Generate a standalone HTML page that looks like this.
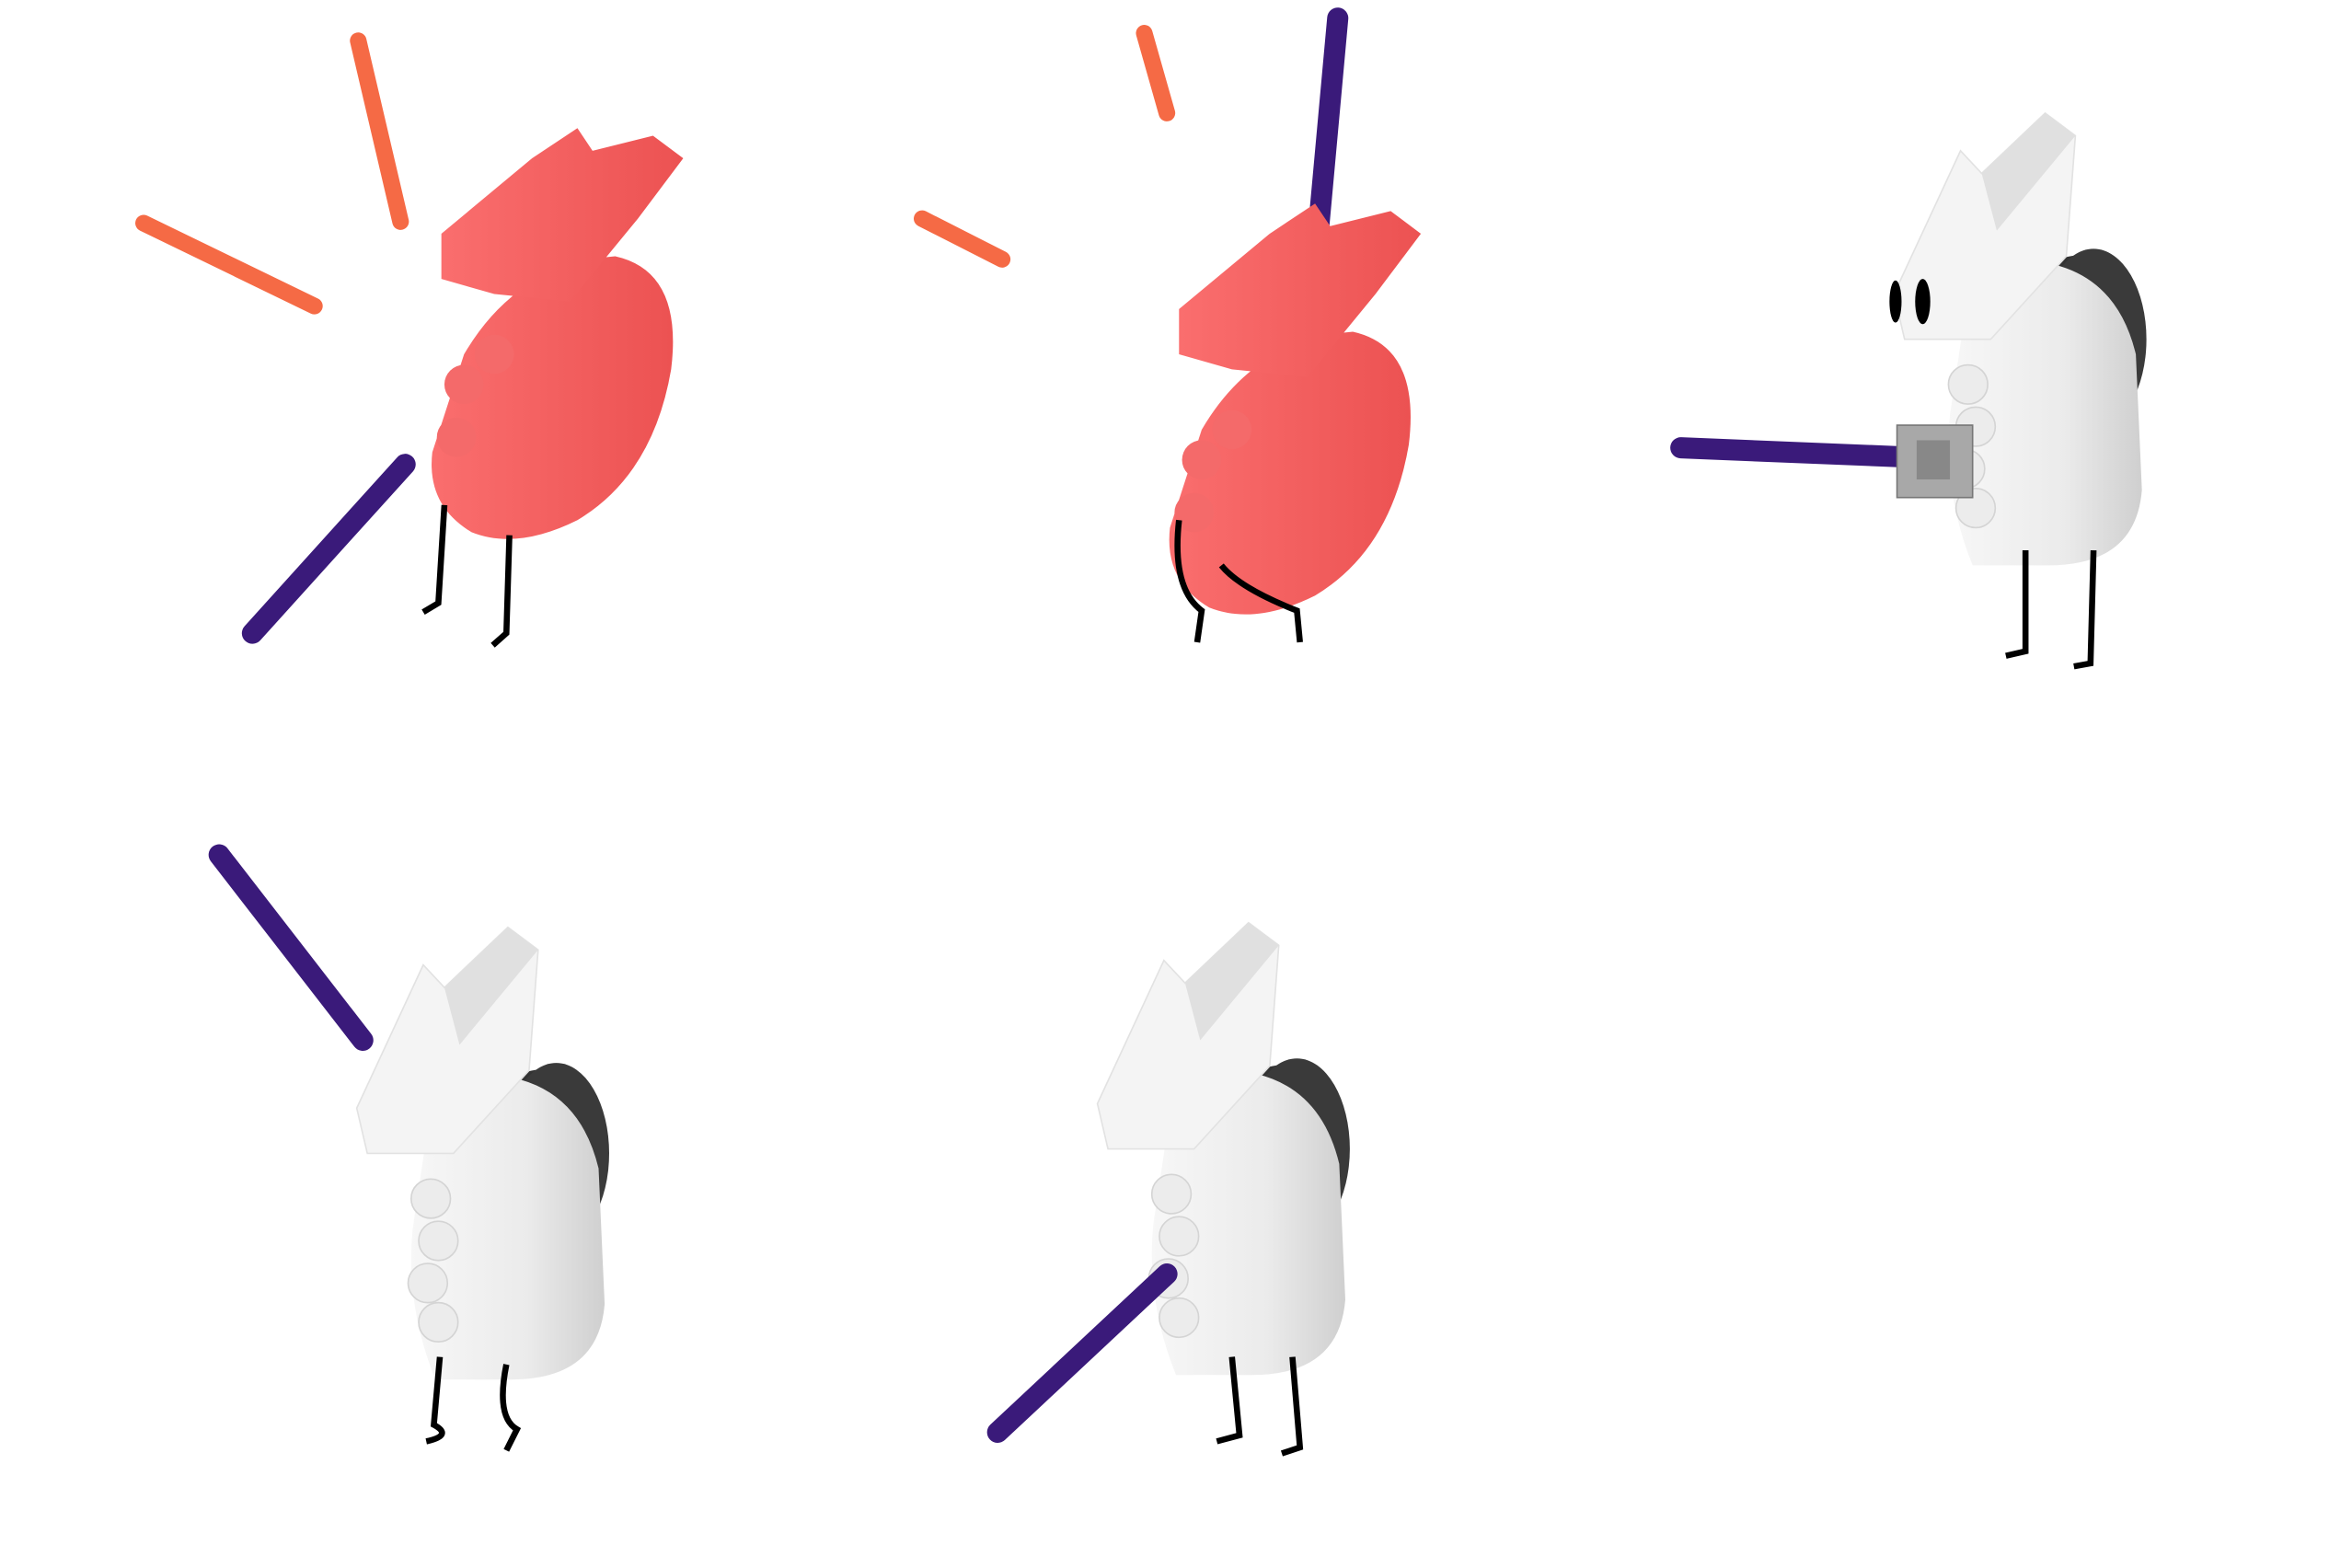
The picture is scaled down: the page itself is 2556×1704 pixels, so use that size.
<!DOCTYPE html>
<html><head><meta charset="utf-8"><style>
html,body{margin:0;padding:0;background:#fff;}
svg{display:block;}
</style></head><body>
<svg width="2556" height="1704" viewBox="0 0 1556 1040" preserveAspectRatio="none" xmlns="http://www.w3.org/2000/svg">
<defs>
<linearGradient id="wg" x1="0" y1="0" x2="1" y2="0"><stop offset="0" stop-color="#f7f7f7"/><stop offset="0.6" stop-color="#ebebeb"/><stop offset="1" stop-color="#cfcfcf"/></linearGradient>
<linearGradient id="rg" x1="0" y1="0" x2="1" y2="0"><stop offset="0" stop-color="#fa6e6e"/><stop offset="1" stop-color="#ec5252"/></linearGradient>
<g id="whitebody">
  <path d="M110 100 Q150 80 170 130 L150 120 Z" fill="#333"/>
  <ellipse cx="140" cy="150" rx="35" ry="60" fill="#3a3a3a"/>
  <path d="M60 100 Q150 85 168 160 L172 250 Q168 300 110 300 L60 300 Q40 250 45 200 Z" fill="url(#wg)"/>
  <circle cx="57" cy="180" r="13" fill="#ececec" stroke="#d4d4d4"/>
  <circle cx="62" cy="208" r="13" fill="#ececec" stroke="#d4d4d4"/>
  <circle cx="55" cy="236" r="13" fill="#ececec" stroke="#d4d4d4"/>
  <circle cx="62" cy="262" r="13" fill="#ececec" stroke="#d4d4d4"/>
  <path d="M8 120 L52 25 L66 40 L108 0 L128 15 L122 95 L72 150 L15 150 Z" fill="#f4f4f4" stroke="#e2e2e2"/>
  <path d="M66 40 L108 0 L128 15 L76 78 Z" fill="#e0e0e0"/>
</g>
<g id="redbody">
  <path d="M25 150 Q60 90 125 85 Q170 95 162 160 Q150 230 100 260 Q60 280 30 268 Q0 250 4 215 Z" fill="url(#rg)"/>
  <path d="M10 70 L70 20 L100 0 L110 15 L150 5 L170 20 L140 60 L95 115 L45 110 L10 100 Z" fill="url(#rg)"/>
  <circle cx="25" cy="170" r="13" fill="#f46a6a"/>
  <circle cx="45" cy="150" r="13" fill="#f46a6a"/>
  <circle cx="20" cy="205" r="13" fill="#f46a6a"/>
</g>
</defs>
<rect width="1556" height="1040" fill="#fff"/>

<g>
  <line x1="237" y1="27" x2="265" y2="147" stroke="#f56a45" stroke-width="11" stroke-linecap="round"/>
  <line x1="95" y1="148" x2="208" y2="203" stroke="#f56a45" stroke-width="11" stroke-linecap="round"/>
  <use href="#redbody" x="282" y="85"/>
  <line x1="167" y1="420" x2="268" y2="308" stroke="#3a1a7a" stroke-width="14" stroke-linecap="round"/>
  <path d="M294 335 L290 400 L280 406" stroke="#000" stroke-width="4" fill="none"/>
  <path d="M337 355 L335 420 L326 428" stroke="#000" stroke-width="4" fill="none"/>
</g>

<g>
  <line x1="757" y1="22" x2="772" y2="75" stroke="#f56a45" stroke-width="11" stroke-linecap="round"/>
  <line x1="610" y1="145" x2="663" y2="172" stroke="#f56a45" stroke-width="11" stroke-linecap="round"/>
  <line x1="885" y1="12" x2="872" y2="155" stroke="#3a1a7a" stroke-width="14" stroke-linecap="round"/>
  <use href="#redbody" x="770" y="135"/>
  <path d="M780 345 Q775 390 795 405 L792 426" stroke="#000" stroke-width="4" fill="none"/>
  <path d="M808 375 Q820 390 858 405 L860 426" stroke="#000" stroke-width="4" fill="none"/>
</g>

<g>
  <use href="#whitebody" x="1245" y="75"/>
  <line x1="1112" y1="297" x2="1258" y2="303" stroke="#3a1a7a" stroke-width="14" stroke-linecap="round"/>
  <rect x="1255" y="282" width="50" height="48" fill="#a8a8a8" stroke="#777"/>
  <rect x="1268" y="292" width="22" height="26" fill="#888"/>
  <ellipse cx="1254" cy="200" rx="4" ry="14" fill="#000"/>
  <ellipse cx="1272" cy="200" rx="5" ry="15" fill="#000"/>
  <path d="M1340 365 L1340 432 L1327 435" stroke="#000" stroke-width="4" fill="none"/>
  <path d="M1385 365 L1383 440 L1372 442" stroke="#000" stroke-width="4" fill="none"/>
</g>

<g>
  <line x1="145" y1="567" x2="240" y2="690" stroke="#3a1a7a" stroke-width="14" stroke-linecap="round"/>
  <use href="#whitebody" x="228" y="615"/>
  <path d="M291 900 L287 945 Q300 952 282 956" stroke="#000" stroke-width="4" fill="none"/>
  <path d="M335 905 Q328 940 342 948 L335 962" stroke="#000" stroke-width="4" fill="none"/>
</g>

<g>
  <use href="#whitebody" x="718" y="612"/>
  <line x1="660" y1="950" x2="772" y2="845" stroke="#3a1a7a" stroke-width="14" stroke-linecap="round"/>
  <path d="M815 900 L820 952 L805 956" stroke="#000" stroke-width="4" fill="none"/>
  <path d="M855 900 L860 960 L848 964" stroke="#000" stroke-width="4" fill="none"/>
</g>
</svg>
</body></html>
